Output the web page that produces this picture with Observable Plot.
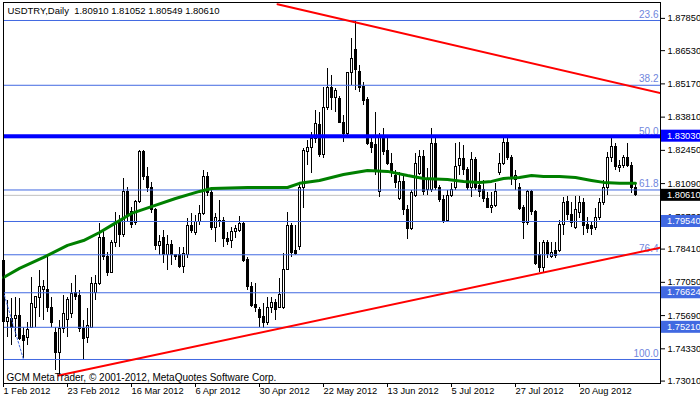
<!DOCTYPE html>
<html><head><meta charset="utf-8">
<script src="https://cdn.jsdelivr.net/npm/d3@7"></script>
<script src="https://cdn.jsdelivr.net/npm/@observablehq/plot@0.6"></script>
<style>
html,body{margin:0;padding:0;background:#fff;}
#chart{width:700px;height:402px;overflow:hidden;}
svg{display:block;}
</style></head><body><div id="chart"></div>
<script>
const titleText = "USDTRY,Daily  1.80910 1.81052 1.80549 1.80610";
const copyrightText = "GCM MetaTrader, \u00A9 2001-2012, MetaQuotes Software Corp.";

const open = [
1.7794,1.7541,1.7557,1.7557,1.7569,1.7487,1.7479,1.7520,1.7602,1.7639,
1.7672,1.7672,1.7602,1.7496,1.7414,1.7516,1.7549,1.7577,1.7663,1.7651,
1.7516,1.7479,1.7520,1.7663,1.7700,1.7888,1.7807,1.7745,1.7864,1.7950,
1.7897,1.8073,1.7991,1.7946,1.8032,1.8240,1.8134,1.8089,1.7999,1.7852,
1.7888,1.7815,1.7856,1.7815,1.7815,1.7766,1.7815,1.7934,1.7905,1.7950,
1.7983,1.8138,1.8069,1.7929,1.7954,1.7958,1.7884,1.7876,1.7909,1.7917,
1.7942,1.7798,1.7684,1.7614,1.7590,1.7565,1.7537,1.7598,1.7622,1.7602,
1.7602,1.7757,1.7934,1.7835,1.7848,1.8093,1.8240,1.8253,1.8290,1.8347,
1.8224,1.8420,1.8502,1.8461,1.8457,1.8359,1.8314,1.8560,1.8654,1.8564,
1.8506,1.8453,1.8277,1.8265,1.8073,1.8294,1.8244,1.8191,1.8142,1.8048,
1.8114,1.8003,1.7925,1.8060,1.8150,1.8216,1.8081,1.8081,1.8273,1.8089,
1.8040,1.7958,1.8060,1.8089,1.8183,1.8208,1.8163,1.8089,1.8204,1.8101,
1.8081,1.8048,1.8011,1.8019,1.8154,1.8191,1.8277,1.8212,1.8122,1.8093,
1.8011,1.7946,1.8073,1.7991,1.7815,1.7762,1.7864,1.7807,1.7835,1.7835,
1.7938,1.8032,1.7979,1.7929,1.7987,1.8028,1.7938,1.7934,1.7929,1.7970,
1.8028,1.8093,1.8212,1.8257,1.8171,1.8183,1.8212,1.8183,1.80910
];
const high = [
1.7815,1.7631,1.7639,1.7643,1.7639,1.7520,1.7541,1.7725,1.7643,1.7753,
1.7713,1.7807,1.7643,1.7520,1.7549,1.7651,1.7643,1.7700,1.7733,1.7672,
1.7549,1.7598,1.7725,1.7733,1.7946,1.7917,1.7827,1.7876,1.7991,1.7979,
1.8130,1.8093,1.8011,1.8040,1.8244,1.8244,1.8175,1.8114,1.8007,1.7897,
1.7917,1.7897,1.7876,1.7819,1.7848,1.7848,1.7966,1.7987,1.7979,1.8019,
1.8163,1.8154,1.8081,1.7987,1.8040,1.7970,1.7909,1.7929,1.7938,1.7974,
1.7950,1.7807,1.7704,1.7700,1.7602,1.7618,1.7643,1.7643,1.7635,1.7721,
1.7823,1.7991,1.7946,1.7938,1.8101,1.8253,1.8285,1.8318,1.8408,1.8400,
1.8502,1.8580,1.8552,1.8498,1.8465,1.8388,1.8564,1.8703,1.8772,1.8592,
1.8523,1.8461,1.8302,1.8400,1.8314,1.8335,1.8294,1.8232,1.8163,1.8154,
1.8142,1.8019,1.8081,1.8232,1.8244,1.8244,1.8171,1.8335,1.8294,1.8101,
1.8060,1.8081,1.8110,1.8273,1.8277,1.8265,1.8175,1.8236,1.8216,1.8154,
1.8122,1.8073,1.8073,1.8110,1.8232,1.8298,1.8294,1.8224,1.8163,1.8110,
1.8019,1.8081,1.8081,1.7999,1.7868,1.7876,1.7876,1.7868,1.7868,1.7958,
1.8052,1.8056,1.8032,1.8056,1.8056,1.8048,1.7970,1.7950,1.8007,1.8048,
1.8122,1.8236,1.8294,1.8273,1.8204,1.8224,1.8273,1.8195,1.81052
];
const low = [
1.7508,1.7479,1.7447,1.7479,1.7467,1.7393,1.7447,1.7516,1.7520,1.7561,
1.7549,1.7581,1.7520,1.7344,1.7324,1.7496,1.7479,1.7557,1.7631,1.7500,
1.7385,1.7455,1.7516,1.7631,1.7692,1.7794,1.7729,1.7741,1.7848,1.7848,
1.7888,1.7950,1.7925,1.7938,1.8028,1.8122,1.8073,1.7987,1.7835,1.7815,
1.7782,1.7753,1.7774,1.7794,1.7762,1.7741,1.7803,1.7905,1.7897,1.7938,
1.7979,1.8056,1.7917,1.7868,1.7929,1.7848,1.7856,1.7843,1.7884,1.7909,
1.7786,1.7672,1.7602,1.7581,1.7520,1.7516,1.7528,1.7577,1.7549,1.7598,
1.7594,1.7753,1.7807,1.7815,1.7835,1.8007,1.8183,1.8150,1.8273,1.8216,
1.8212,1.8408,1.8408,1.8400,1.8355,1.8277,1.8294,1.8510,1.8490,1.8482,
1.8429,1.8265,1.8232,1.8142,1.8052,1.8224,1.8183,1.8134,1.8089,1.8040,
1.7979,1.7880,1.7917,1.8052,1.8142,1.8060,1.8060,1.8073,1.8081,1.8032,
1.7946,1.7950,1.8052,1.8081,1.8142,1.8142,1.8081,1.8052,1.8081,1.8052,
1.8032,1.8007,1.7987,1.8011,1.8142,1.8183,1.8204,1.8101,1.8081,1.7999,
1.7880,1.7938,1.7979,1.7774,1.7745,1.7745,1.7803,1.7803,1.7803,1.7827,
1.7897,1.7958,1.7929,1.7921,1.7966,1.7897,1.7905,1.7897,1.7917,1.7958,
1.8019,1.8060,1.8195,1.8163,1.8154,1.8171,1.8175,1.8069,1.80549
];
const close = [
1.7541,1.7561,1.7520,1.7569,1.7475,1.7467,1.7508,1.7618,1.7643,1.7684,
1.7684,1.7602,1.7537,1.7414,1.7516,1.7577,1.7631,1.7659,1.7647,1.7516,
1.7475,1.7528,1.7700,1.7700,1.7888,1.7807,1.7745,1.7864,1.7950,1.7897,
1.8073,1.7979,1.7938,1.8032,1.8240,1.8134,1.8089,1.7999,1.7852,1.7872,
1.7815,1.7856,1.7815,1.7807,1.7766,1.7823,1.7934,1.7917,1.7950,1.7983,
1.8138,1.8069,1.7929,1.7970,1.7958,1.7884,1.7872,1.7909,1.7925,1.7942,
1.7794,1.7684,1.7610,1.7602,1.7561,1.7537,1.7598,1.7622,1.7590,1.7655,
1.7757,1.7934,1.7827,1.7823,1.8093,1.8244,1.8253,1.8290,1.8351,1.8224,
1.8420,1.8502,1.8461,1.8486,1.8359,1.8314,1.8560,1.8617,1.8572,1.8502,
1.8449,1.8273,1.8253,1.8163,1.8294,1.8240,1.8191,1.8154,1.8110,1.8114,
1.8003,1.7925,1.8069,1.8191,1.8216,1.8073,1.8122,1.8273,1.8093,1.8040,
1.7958,1.8060,1.8081,1.8175,1.8208,1.8163,1.8089,1.8204,1.8093,1.8073,
1.8048,1.8011,1.8019,1.8073,1.8191,1.8277,1.8212,1.8130,1.8142,1.8007,
1.7946,1.8073,1.7991,1.7782,1.7762,1.7864,1.7823,1.7827,1.7811,1.7938,
1.8028,1.7979,1.7946,1.7999,1.8028,1.7934,1.7925,1.7925,1.7970,1.8028,
1.8093,1.8212,1.8257,1.8175,1.8183,1.8212,1.8183,1.8089,1.80610
];

// moving average at bar indices
const maIdx = [0,4,10,16,20,24,27,32,37,43,49,52,61,71,74,79,85,91,96,101,105,111,115,119,122,125,129,132,135,139,143,147,150,154,158];
const maVal = [1.7725,1.7762,1.7807,1.7856,1.7876,1.7909,1.7938,1.7987,1.8015,1.8048,1.8077,1.8089,1.8093,1.8093,1.8110,1.8122,1.8146,1.8163,1.8159,1.8142,1.8130,1.8126,1.8118,1.8114,1.8118,1.8130,1.8134,1.8142,1.8138,1.8138,1.8134,1.8122,1.8114,1.8110,1.8110];

// x-axis
const dateIdx = [0,16,32,48,64,80,96,112,128,144];
const dateLabels = ["1 Feb 2012","23 Feb 2012","16 Mar 2012","6 Apr 2012","30 Apr 2012","22 May 2012","13 Jun 2012","5 Jul 2012","27 Jul 2012","20 Aug 2012"];
// y-axis
const yTicks = [1.87850,1.86530,1.85170,1.83810,1.82450,1.81090,1.79730,1.78410,1.77050,1.75690,1.74330,1.73010];

// fibonacci levels
const fibLabels = ["23.6","38.2","50.0","61.8","76.4","100.0"];
const fibPrices = [1.87764,1.85113,1.82971,1.80829,1.78178,1.73893];
// fib diagonal (anchor high off-chart to low)
const fibDiagIdx = [-28,5];
const fibDiagVal = [1.92049,1.73893];

// horizontal lines
const hLinePrices = [1.79540,1.76624,1.75210];
const keyLevel = 1.83030;
const lastPrice = 1.80610;

// trend lines
const upperTrendIdx = [68.5,164.25];
const upperTrendVal = [1.8843,1.8479];
const lowerTrendIdx = [13.75,164.25];
const lowerTrendVal = [1.7324,1.7847];

// price labels on axis
const boxPrices = [1.83030,1.80610,1.79540,1.76624,1.75210];
const boxColors = ["#0000ff","#000000","#4169e1","#4169e1","#4169e1"];

const FONT = "'Liberation Sans', Arial, sans-serif";

const bars = open.map((o,i)=>({i, o, h: Math.max(high[i],o,close[i]), l: Math.min(low[i],o,close[i]), c: close[i]}));
const bull = bars.filter(d=>d.c>=d.o);
const bear = bars.filter(d=>d.c<d.o);
const bodyLo = d => Math.min(d.o,d.c);
const bodyHi = d => Math.max(d.o,d.c) === Math.min(d.o,d.c) ? Math.max(d.o,d.c)+0.00004 : Math.max(d.o,d.c);

const maPts = maIdx.map((x,k)=>({x, y: maVal[k]}));
const up = upperTrendIdx.map((x,k)=>({x, y: upperTrendVal[k]}));
const lo = lowerTrendIdx.map((x,k)=>({x, y: lowerTrendVal[k]}));
const fd = fibDiagIdx.map((x,k)=>({x, y: fibDiagVal[k]}));
const fibData = fibPrices.map((p,k)=>({p, t: fibLabels[k]}));
const dateMap = new Map(dateIdx.map((d,k)=>[d,dateLabels[k]]));

const chart = Plot.plot({
  width: 700, height: 402,
  marginLeft: 3, marginRight: 40, marginTop: 2, marginBottom: 19,
  x: {type: "linear", domain: [0,164.25], axis: null},
  y: {type: "linear", domain: [1.72911,1.88500], axis: null},
  style: {fontFamily: FONT, fontSize: "9.3px", color: "black", background: "white", overflow: "visible"},
  marks: [
    Plot.ruleY([lastPrice], {stroke: "#c0c0c0", strokeWidth: 1}),
    Plot.ruleX(bars, {x: "i", y1: "l", y2: "h", stroke: "black", strokeWidth: 1, shapeRendering: "crispEdges"}),
    Plot.rect(bull, {x1: d=>d.i-0.25, x2: d=>d.i+0.25, y1: bodyLo, y2: bodyHi, fill: "white", stroke: "black", strokeWidth: 1, shapeRendering: "crispEdges"}),
    Plot.rect(bear, {x1: d=>d.i-0.25, x2: d=>d.i+0.25, y1: bodyLo, y2: bodyHi, fill: "black", stroke: "black", strokeWidth: 1, shapeRendering: "crispEdges"}),
    Plot.ruleY(fibPrices, {stroke: "#4169e1", strokeWidth: 1}),
    Plot.ruleY(hLinePrices, {stroke: "#4169e1", strokeWidth: 1}),
    Plot.line(fd, {x: "x", y: "y", stroke: "#4169e1", strokeWidth: 1, strokeDasharray: "2,2", clip: true}),
    Plot.text(fibData, {y: "p", text: "t", frameAnchor: "right", textAnchor: "end", dx: -2, dy: -6, fill: "#6f86dd", fontSize: 10}),
    Plot.line(maPts, {x: "x", y: "y", stroke: "#008000", strokeWidth: 3}),
    Plot.ruleY([keyLevel], {stroke: "#0000ff", strokeWidth: 4}),
    Plot.line(up, {x: "x", y: "y", stroke: "#ff0000", strokeWidth: 2, clip: true}),
    Plot.line(lo, {x: "x", y: "y", stroke: "#ff0000", strokeWidth: 2, clip: true}),
    Plot.frame({stroke: "black"}),
    Plot.axisY({anchor: "right", ticks: yTicks, tickFormat: d=>d.toFixed(5), tickSize: 4, tickPadding: 3, fontSize: 9.3}),
    Plot.axisX({anchor: "bottom", ticks: dateIdx, tickFormat: d=>dateMap.get(d), tickSize: 4, tickPadding: 0, textAnchor: "start", fontSize: 9.3}),
    Plot.text([titleText], {text: d=>d, frameAnchor: "top-left", textAnchor: "start", lineAnchor: "middle", dx: 4, dy: 8, fontSize: 9.5, fill: "black"}),
    Plot.text([copyrightText], {text: d=>d, frameAnchor: "bottom-left", textAnchor: "start", lineAnchor: "middle", dx: 3, dy: -6, fontSize: 10, fill: "black"})
  ]
});

const ys = chart.scale("y");
const svg = d3.select(chart);
const g = svg.append("g").attr("text-anchor", "start");
boxPrices.forEach((p,k)=>{
  const yy = ys.apply(p);
  g.append("rect").attr("x",661).attr("y",yy-6).attr("width",39).attr("height",12).attr("fill",boxColors[k]);
  g.append("text").attr("x",667).attr("y",yy).attr("dy","0.34em").attr("fill","white")
    .attr("text-anchor","start")
    .attr("font-family",FONT).attr("font-size","9.3px").text(p.toFixed(5));
});
document.getElementById("chart").appendChild(chart);
</script></body></html>
